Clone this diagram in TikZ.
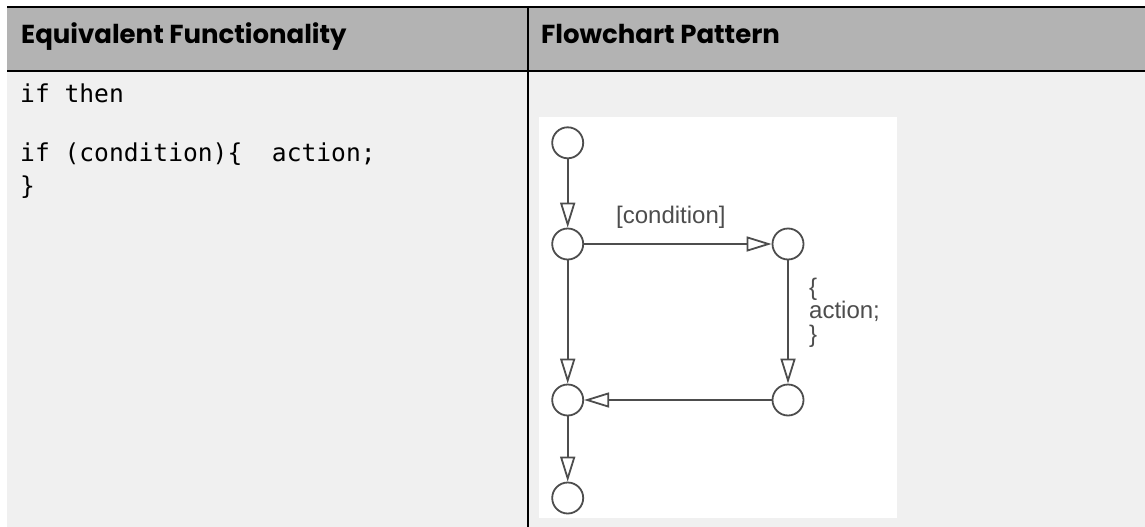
\documentclass[tikz,border=0pt]{standalone}
\usepackage{fontspec}
\usetikzlibrary{arrows.meta}
\newfontfamily\headfont{Poppins}
\newfontfamily\codefont{DejaVu Sans Mono}
\newfontfamily\chartfont{Liberation Sans}
\definecolor{hdrgray}{HTML}{B3B3B3}
\definecolor{bodygray}{HTML}{F0F0F0}
\definecolor{linegray}{HTML}{4D4D4D}
\begin{document}
\begin{tikzpicture}[x=1pt,y=-1pt,
  state/.style={circle,draw=linegray,line width=1.8pt,minimum size=31pt,inner sep=0pt,fill=white},
  flow/.style={draw=linegray,line width=1.8pt,-{Triangle[open,length=25pt,width=15pt]}},
  hdr/.style={anchor=base west,inner sep=0pt,font=\headfont\bfseries\fontsize{26}{30}\selectfont},
  code/.style={anchor=base west,inner sep=0pt,text=black,font=\codefont\fontsize{24.6}{33}\selectfont},
  lbl/.style={anchor=base west,inner sep=0pt,text=linegray,font=\chartfont\fontsize{24}{24}\selectfont}]
\useasboundingbox (0,0) rectangle (1145,527);
% table background
\fill[white] (0,0) rectangle (1145,527);
\fill[hdrgray] (7,7) rectangle (1145,71);
\fill[bodygray] (7,71) rectangle (1145,527);
\fill[black] (7,6) rectangle (1145,7.8);
\fill[black] (7,70) rectangle (1145,72);
\fill[black] (527.3,6) rectangle (529.3,527);
\fill[white] (539,117) rectangle (897,517.5);
% header
\node[hdr] (h1) at (21,43.3) {Equivalent Functionality};
\node[hdr] (h2) at (541,43.3) {Flowchart Pattern};
% code
\node[code] (c1) at (20,102.5) {if then};
\node[code] (c2) at (20,161) {if (condition)\{\ \ action;};
\node[code] (c3) at (20,194) {\}};
% flowchart
\node[state] (A) at (567.7,142.8) {};
\node[state] (B) at (567.7,244) {};
\node[state] (C) at (788,244) {};
\node[state] (D) at (788,400) {};
\node[state] (E) at (567.7,400) {};
\node[state] (F) at (567.7,498) {};
\draw[flow] (A) -- (B);
\draw[flow] (B) -- (C);
\draw[flow] (C) -- (D);
\draw[flow] (D) -- (E);
\draw[flow] (B) -- (E);
\draw[flow] (E) -- (F);
\node[lbl] (cond) at (616,223.7) {[condition]};
\node[lbl] (act1) at (809,295) {\{};
\node[lbl] (act2) at (809,318.5) {action;};
\node[lbl] (act3) at (809,342) {\}};
\end{tikzpicture}
\end{document}
